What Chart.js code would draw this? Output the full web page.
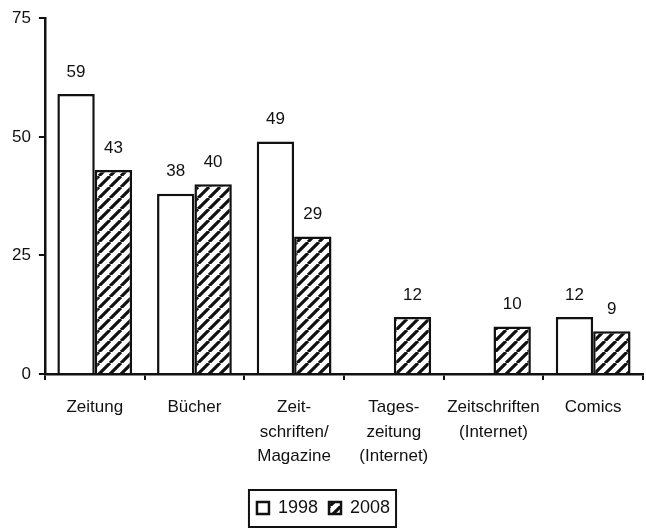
<!DOCTYPE html>
<html>
<head>
<meta charset="utf-8">
<script src="https://cdn.jsdelivr.net/npm/chart.js@4/dist/chart.umd.min.js"></script>
<style>
  html, body { margin: 0; padding: 0; background: #fff; }
  #wrap { width: 646px; height: 529px; }
</style>
</head>
<body>
<div id="wrap"><canvas id="graph"></canvas></div>
<script>
// Daten
const categories = [
    'Zeitung',
    'Bücher',
    ['Zeit-', 'schriften/', 'Magazine'],
    ['Tages-', 'zeitung', '(Internet)'],
    ['Zeitschriften', '(Internet)'],
    'Comics'
];
const values1998 = [59, 38, 49, null, null, 12];
const values2008 = [43, 40, 29, 12, 10, 9];
const yTicks = [0, 25, 50, 75];

const FONT = '"Liberation Sans", Arial, sans-serif';

// Schraffur für 2008
function makeHatch(size) {
    const c = document.createElement('canvas');
    c.width = size; c.height = size;
    const g = c.getContext('2d');
    g.fillStyle = '#fff';
    g.fillRect(0, 0, size, size);
    g.strokeStyle = '#111';
    g.lineWidth = 3.2;
    g.beginPath();
    for (let k = -1; k <= 1; k++) {
        g.moveTo(k * size, size);
        g.lineTo(k * size + size, 0);
    }
    g.stroke();
    return g.createPattern(c, 'repeat');
}

const valueLabels = {
    id: 'valueLabels',
    afterDatasetsDraw(chart) {
        const ctx = chart.ctx;
        ctx.save();
        ctx.fillStyle = '#111';
        ctx.font = '17px ' + FONT;
        ctx.textAlign = 'center';
        ctx.textBaseline = 'middle';
        chart.data.datasets.forEach((ds, i) => {
            chart.getDatasetMeta(i).data.forEach((bar, j) => {
                const v = ds.data[j];
                if (v === null) return;
                ctx.fillText(String(v), bar.x, bar.y - 22);
            });
        });
        ctx.restore();
    }
};

// Rahmen um die Legende
const legendFrame = {
    id: 'legendFrame',
    afterDraw(chart) {
        const boxes = chart.legend.legendHitBoxes;
        if (!boxes || !boxes.length) return;
        const left = Math.min(...boxes.map(b => b.left)) - 8;
        const right = Math.max(...boxes.map(b => b.left + b.width)) + 6;
        const top = boxes[0].top - 9;
        const bottom = boxes[0].top + boxes[0].height + 10;
        const ctx = chart.ctx;
        ctx.save();
        ctx.strokeStyle = '#111';
        ctx.lineWidth = 2;
        ctx.strokeRect(left, top, right - left, bottom - top);
        ctx.restore();
    }
};

const hatch = makeHatch(11);
const ctx = document.getElementById('graph').getContext('2d');

new Chart(ctx, {
    type: 'bar',
    data: {
        labels: categories,
        datasets: [
            { label: '1998', data: values1998, backgroundColor: '#fff', borderColor: '#111', borderWidth: 2.5 },
            { label: '2008', data: values2008, backgroundColor: hatch, borderColor: '#111', borderWidth: 2.5 }
        ]
    },
    options: {
        responsive: true,
        maintainAspectRatio: false,
        animation: false,
        layout: { padding: { left: 4, right: 3, top: 18, bottom: 2 } },
        datasets: { bar: { categoryPercentage: 0.75, barPercentage: 1 } },
        scales: {
            x: {
                afterFit(axis) { axis.height += 4; },
                grid: { drawOnChartArea: false, color: '#111', lineWidth: 2, tickLength: 6 },
                border: { color: '#111', width: 2.5 },
                ticks: {
                    color: '#111',
                    font: { size: 17, family: FONT, lineHeight: 1.45 },
                    maxRotation: 0,
                    autoSkip: false,
                    padding: 15
                }
            },
            y: {
                min: 0,
                max: 75,
                afterBuildTicks(axis) { axis.ticks = yTicks.map(v => ({ value: v })); },
                grid: { drawOnChartArea: false, color: '#111', lineWidth: 2, tickLength: 6 },
                border: { color: '#111', width: 2.5 },
                ticks: {
                    color: '#111',
                    font: { size: 17, family: FONT },
                    padding: 8
                }
            }
        },
        plugins: {
            legend: {
                position: 'bottom',
                labels: {
                    color: '#111',
                    font: { size: 18, family: FONT },
                    boxWidth: 12,
                    boxHeight: 12,
                    padding: 11
                }
            },
            tooltip: { enabled: false }
        }
    },
    plugins: [valueLabels, legendFrame]
});
</script>
</body>
</html>
